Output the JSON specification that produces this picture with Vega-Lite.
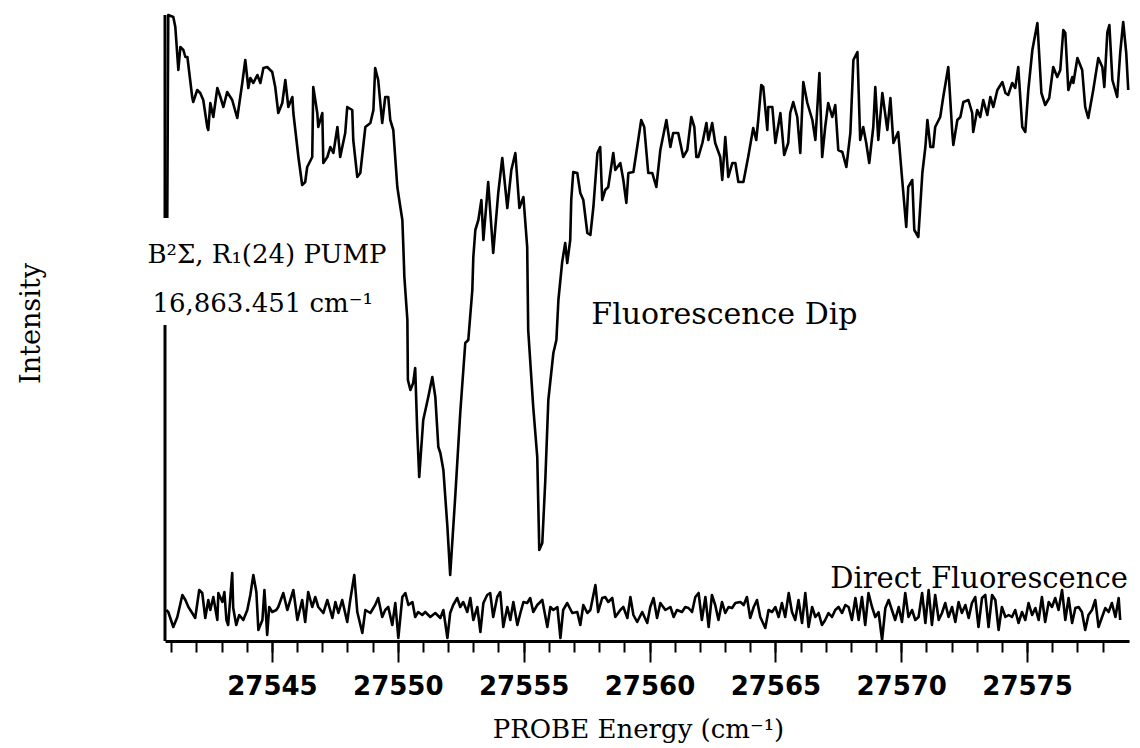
{
"$schema": "https://vega.github.io/schema/vega-lite/v6.json",
"width": 964, "height": 626,
"autosize": "none",
"padding": {"left": 165, "top": 15, "right": 11, "bottom": 107},
"background": "white",
"config": {"view": {"stroke": null}, "axis": {"grid": false}},
"datasets": {
"spectrum": [
{"trace":"dip","e":27540.84,"i":423},{"trace":"dip","e":27540.88,"i":626},{"trace":"dip","e":27541.08,"i":624},{"trace":"dip","e":27541.16,"i":614},{"trace":"dip","e":27541.28,"i":571},{"trace":"dip","e":27541.36,"i":594},{"trace":"dip","e":27541.48,"i":591},{"trace":"dip","e":27541.56,"i":584},{"trace":"dip","e":27541.64,"i":584},{"trace":"dip","e":27541.83,"i":544},{"trace":"dip","e":27541.87,"i":539},{"trace":"dip","e":27542.03,"i":551},{"trace":"dip","e":27542.15,"i":548},{"trace":"dip","e":27542.27,"i":541},{"trace":"dip","e":27542.43,"i":514},{"trace":"dip","e":27542.47,"i":511},{"trace":"dip","e":27542.55,"i":538},{"trace":"dip","e":27542.67,"i":524},{"trace":"dip","e":27542.83,"i":553},{"trace":"dip","e":27542.95,"i":544},{"trace":"dip","e":27543.07,"i":534},{"trace":"dip","e":27543.22,"i":549},{"trace":"dip","e":27543.42,"i":541},{"trace":"dip","e":27543.62,"i":523},{"trace":"dip","e":27543.82,"i":558},{"trace":"dip","e":27543.94,"i":581},{"trace":"dip","e":27544.06,"i":553},{"trace":"dip","e":27544.14,"i":563},{"trace":"dip","e":27544.26,"i":558},{"trace":"dip","e":27544.42,"i":566},{"trace":"dip","e":27544.54,"i":558},{"trace":"dip","e":27544.66,"i":573},{"trace":"dip","e":27544.81,"i":574},{"trace":"dip","e":27545.01,"i":569},{"trace":"dip","e":27545.13,"i":554},{"trace":"dip","e":27545.25,"i":528},{"trace":"dip","e":27545.41,"i":538},{"trace":"dip","e":27545.53,"i":561},{"trace":"dip","e":27545.65,"i":534},{"trace":"dip","e":27545.81,"i":544},{"trace":"dip","e":27545.85,"i":528},{"trace":"dip","e":27546.05,"i":484},{"trace":"dip","e":27546.20,"i":456},{"trace":"dip","e":27546.32,"i":459},{"trace":"dip","e":27546.40,"i":474},{"trace":"dip","e":27546.60,"i":484},{"trace":"dip","e":27546.64,"i":554},{"trace":"dip","e":27546.80,"i":528},{"trace":"dip","e":27546.84,"i":514},{"trace":"dip","e":27547.00,"i":528},{"trace":"dip","e":27547.04,"i":478},{"trace":"dip","e":27547.20,"i":484},{"trace":"dip","e":27547.32,"i":494},{"trace":"dip","e":27547.44,"i":488},{"trace":"dip","e":27547.60,"i":514},{"trace":"dip","e":27547.71,"i":484},{"trace":"dip","e":27547.91,"i":508},{"trace":"dip","e":27547.99,"i":534},{"trace":"dip","e":27548.19,"i":531},{"trace":"dip","e":27548.23,"i":501},{"trace":"dip","e":27548.39,"i":464},{"trace":"dip","e":27548.51,"i":468},{"trace":"dip","e":27548.71,"i":514},{"trace":"dip","e":27548.91,"i":518},{"trace":"dip","e":27549.03,"i":531},{"trace":"dip","e":27549.10,"i":573},{"trace":"dip","e":27549.22,"i":561},{"trace":"dip","e":27549.38,"i":518},{"trace":"dip","e":27549.50,"i":544},{"trace":"dip","e":27549.62,"i":544},{"trace":"dip","e":27549.70,"i":521},{"trace":"dip","e":27549.82,"i":511},{"trace":"dip","e":27549.98,"i":454},{"trace":"dip","e":27550.10,"i":434},{"trace":"dip","e":27550.18,"i":421},{"trace":"dip","e":27550.22,"i":394},{"trace":"dip","e":27550.26,"i":364},{"trace":"dip","e":27550.38,"i":321},{"trace":"dip","e":27550.40,"i":261},{"trace":"dip","e":27550.50,"i":251},{"trace":"dip","e":27550.61,"i":258},{"trace":"dip","e":27550.69,"i":273},{"trace":"dip","e":27550.77,"i":211},{"trace":"dip","e":27550.85,"i":164},{"trace":"dip","e":27551.01,"i":221},{"trace":"dip","e":27551.21,"i":244},{"trace":"dip","e":27551.37,"i":264},{"trace":"dip","e":27551.49,"i":244},{"trace":"dip","e":27551.61,"i":194},{"trace":"dip","e":27551.69,"i":188},{"trace":"dip","e":27551.81,"i":171},{"trace":"dip","e":27551.97,"i":114},{"trace":"dip","e":27552.08,"i":66},{"trace":"dip","e":27552.28,"i":144},{"trace":"dip","e":27552.48,"i":228},{"trace":"dip","e":27552.68,"i":298},{"trace":"dip","e":27552.80,"i":301},{"trace":"dip","e":27552.96,"i":351},{"trace":"dip","e":27553.00,"i":384},{"trace":"dip","e":27553.08,"i":411},{"trace":"dip","e":27553.20,"i":421},{"trace":"dip","e":27553.32,"i":441},{"trace":"dip","e":27553.40,"i":401},{"trace":"dip","e":27553.59,"i":459},{"trace":"dip","e":27553.79,"i":388},{"trace":"dip","e":27553.99,"i":448},{"trace":"dip","e":27554.15,"i":483},{"trace":"dip","e":27554.35,"i":433},{"trace":"dip","e":27554.51,"i":471},{"trace":"dip","e":27554.67,"i":488},{"trace":"dip","e":27554.83,"i":433},{"trace":"dip","e":27554.99,"i":444},{"trace":"dip","e":27555.14,"i":394},{"trace":"dip","e":27555.18,"i":311},{"trace":"dip","e":27555.38,"i":234},{"trace":"dip","e":27555.54,"i":184},{"trace":"dip","e":27555.62,"i":91},{"trace":"dip","e":27555.74,"i":98},{"trace":"dip","e":27555.86,"i":161},{"trace":"dip","e":27555.98,"i":241},{"trace":"dip","e":27556.18,"i":288},{"trace":"dip","e":27556.30,"i":301},{"trace":"dip","e":27556.38,"i":341},{"trace":"dip","e":27556.53,"i":379},{"trace":"dip","e":27556.65,"i":398},{"trace":"dip","e":27556.73,"i":378},{"trace":"dip","e":27556.85,"i":401},{"trace":"dip","e":27556.89,"i":441},{"trace":"dip","e":27556.97,"i":469},{"trace":"dip","e":27557.13,"i":468},{"trace":"dip","e":27557.25,"i":448},{"trace":"dip","e":27557.37,"i":441},{"trace":"dip","e":27557.53,"i":408},{"trace":"dip","e":27557.65,"i":406},{"trace":"dip","e":27557.77,"i":434},{"trace":"dip","e":27557.93,"i":488},{"trace":"dip","e":27558.04,"i":494},{"trace":"dip","e":27558.12,"i":441},{"trace":"dip","e":27558.24,"i":451},{"trace":"dip","e":27558.36,"i":454},{"trace":"dip","e":27558.56,"i":488},{"trace":"dip","e":27558.64,"i":471},{"trace":"dip","e":27558.84,"i":478},{"trace":"dip","e":27558.96,"i":461},{"trace":"dip","e":27559.08,"i":438},{"trace":"dip","e":27559.16,"i":468},{"trace":"dip","e":27559.36,"i":469},{"trace":"dip","e":27559.51,"i":494},{"trace":"dip","e":27559.67,"i":521},{"trace":"dip","e":27559.79,"i":514},{"trace":"dip","e":27559.95,"i":468},{"trace":"dip","e":27560.11,"i":468},{"trace":"dip","e":27560.27,"i":454},{"trace":"dip","e":27560.43,"i":491},{"trace":"dip","e":27560.67,"i":521},{"trace":"dip","e":27560.83,"i":494},{"trace":"dip","e":27560.94,"i":508},{"trace":"dip","e":27561.14,"i":508},{"trace":"dip","e":27561.34,"i":484},{"trace":"dip","e":27561.50,"i":491},{"trace":"dip","e":27561.66,"i":524},{"trace":"dip","e":27561.78,"i":514},{"trace":"dip","e":27561.86,"i":484},{"trace":"dip","e":27561.94,"i":484},{"trace":"dip","e":27562.10,"i":498},{"trace":"dip","e":27562.26,"i":518},{"trace":"dip","e":27562.34,"i":501},{"trace":"dip","e":27562.49,"i":518},{"trace":"dip","e":27562.61,"i":498},{"trace":"dip","e":27562.81,"i":484},{"trace":"dip","e":27562.89,"i":461},{"trace":"dip","e":27563.01,"i":504},{"trace":"dip","e":27563.13,"i":464},{"trace":"dip","e":27563.29,"i":478},{"trace":"dip","e":27563.41,"i":478},{"trace":"dip","e":27563.53,"i":459},{"trace":"dip","e":27563.73,"i":459},{"trace":"dip","e":27563.92,"i":484},{"trace":"dip","e":27564.12,"i":513},{"trace":"dip","e":27564.24,"i":501},{"trace":"dip","e":27564.32,"i":521},{"trace":"dip","e":27564.44,"i":556},{"trace":"dip","e":27564.52,"i":554},{"trace":"dip","e":27564.68,"i":511},{"trace":"dip","e":27564.72,"i":534},{"trace":"dip","e":27564.88,"i":534},{"trace":"dip","e":27565.00,"i":498},{"trace":"dip","e":27565.20,"i":528},{"trace":"dip","e":27565.35,"i":486},{"trace":"dip","e":27565.51,"i":498},{"trace":"dip","e":27565.59,"i":528},{"trace":"dip","e":27565.71,"i":539},{"trace":"dip","e":27565.87,"i":524},{"trace":"dip","e":27565.99,"i":488},{"trace":"dip","e":27566.11,"i":559},{"trace":"dip","e":27566.27,"i":538},{"trace":"dip","e":27566.47,"i":521},{"trace":"dip","e":27566.59,"i":501},{"trace":"dip","e":27566.75,"i":568},{"trace":"dip","e":27566.86,"i":484},{"trace":"dip","e":27566.98,"i":514},{"trace":"dip","e":27567.10,"i":538},{"trace":"dip","e":27567.26,"i":524},{"trace":"dip","e":27567.38,"i":536},{"trace":"dip","e":27567.50,"i":491},{"trace":"dip","e":27567.66,"i":489},{"trace":"dip","e":27567.82,"i":474},{"trace":"dip","e":27567.98,"i":508},{"trace":"dip","e":27568.10,"i":581},{"trace":"dip","e":27568.26,"i":589},{"trace":"dip","e":27568.37,"i":501},{"trace":"dip","e":27568.49,"i":514},{"trace":"dip","e":27568.61,"i":498},{"trace":"dip","e":27568.73,"i":478},{"trace":"dip","e":27568.89,"i":514},{"trace":"dip","e":27568.97,"i":554},{"trace":"dip","e":27569.09,"i":501},{"trace":"dip","e":27569.25,"i":548},{"trace":"dip","e":27569.45,"i":511},{"trace":"dip","e":27569.57,"i":543},{"trace":"dip","e":27569.69,"i":498},{"trace":"dip","e":27569.88,"i":509},{"trace":"dip","e":27570.04,"i":461},{"trace":"dip","e":27570.20,"i":414},{"trace":"dip","e":27570.28,"i":454},{"trace":"dip","e":27570.44,"i":461},{"trace":"dip","e":27570.52,"i":411},{"trace":"dip","e":27570.68,"i":404},{"trace":"dip","e":27570.84,"i":468},{"trace":"dip","e":27570.96,"i":494},{"trace":"dip","e":27571.04,"i":521},{"trace":"dip","e":27571.16,"i":494},{"trace":"dip","e":27571.27,"i":494},{"trace":"dip","e":27571.35,"i":514},{"trace":"dip","e":27571.55,"i":524},{"trace":"dip","e":27571.67,"i":544},{"trace":"dip","e":27571.87,"i":574},{"trace":"dip","e":27572.03,"i":508},{"trace":"dip","e":27572.07,"i":496},{"trace":"dip","e":27572.23,"i":521},{"trace":"dip","e":27572.35,"i":524},{"trace":"dip","e":27572.47,"i":539},{"trace":"dip","e":27572.67,"i":541},{"trace":"dip","e":27572.82,"i":528},{"trace":"dip","e":27572.86,"i":509},{"trace":"dip","e":27573.02,"i":531},{"trace":"dip","e":27573.14,"i":524},{"trace":"dip","e":27573.26,"i":541},{"trace":"dip","e":27573.42,"i":526},{"trace":"dip","e":27573.54,"i":544},{"trace":"dip","e":27573.66,"i":534},{"trace":"dip","e":27573.82,"i":551},{"trace":"dip","e":27574.02,"i":559},{"trace":"dip","e":27574.14,"i":548},{"trace":"dip","e":27574.25,"i":546},{"trace":"dip","e":27574.41,"i":558},{"trace":"dip","e":27574.53,"i":553},{"trace":"dip","e":27574.65,"i":574},{"trace":"dip","e":27574.81,"i":514},{"trace":"dip","e":27574.93,"i":509},{"trace":"dip","e":27575.05,"i":551},{"trace":"dip","e":27575.21,"i":591},{"trace":"dip","e":27575.41,"i":618},{"trace":"dip","e":27575.57,"i":548},{"trace":"dip","e":27575.72,"i":536},{"trace":"dip","e":27575.88,"i":543},{"trace":"dip","e":27576.04,"i":574},{"trace":"dip","e":27576.20,"i":564},{"trace":"dip","e":27576.32,"i":571},{"trace":"dip","e":27576.44,"i":611},{"trace":"dip","e":27576.52,"i":608},{"trace":"dip","e":27576.64,"i":551},{"trace":"dip","e":27576.80,"i":564},{"trace":"dip","e":27576.84,"i":558},{"trace":"dip","e":27577.00,"i":583},{"trace":"dip","e":27577.19,"i":571},{"trace":"dip","e":27577.31,"i":534},{"trace":"dip","e":27577.43,"i":523},{"trace":"dip","e":27577.63,"i":551},{"trace":"dip","e":27577.83,"i":583},{"trace":"dip","e":27577.99,"i":574},{"trace":"dip","e":27578.07,"i":554},{"trace":"dip","e":27578.19,"i":609},{"trace":"dip","e":27578.27,"i":616},{"trace":"dip","e":27578.39,"i":561},{"trace":"dip","e":27578.58,"i":544},{"trace":"dip","e":27578.70,"i":588},{"trace":"dip","e":27578.82,"i":619},{"trace":"dip","e":27578.94,"i":588},{"trace":"dip","e":27579.02,"i":551},
{"trace":"direct","e":27540.80,"i":31},{"trace":"direct","e":27540.88,"i":29},{"trace":"direct","e":27541.08,"i":14},{"trace":"direct","e":27541.24,"i":24},{"trace":"direct","e":27541.44,"i":46},{"trace":"direct","e":27541.56,"i":41},{"trace":"direct","e":27541.68,"i":34},{"trace":"direct","e":27541.83,"i":28},{"trace":"direct","e":27541.95,"i":23},{"trace":"direct","e":27542.11,"i":51},{"trace":"direct","e":27542.23,"i":48},{"trace":"direct","e":27542.35,"i":23},{"trace":"direct","e":27542.47,"i":41},{"trace":"direct","e":27542.55,"i":31},{"trace":"direct","e":27542.67,"i":44},{"trace":"direct","e":27542.83,"i":21},{"trace":"direct","e":27542.87,"i":48},{"trace":"direct","e":27543.03,"i":39},{"trace":"direct","e":27543.11,"i":49},{"trace":"direct","e":27543.19,"i":21},{"trace":"direct","e":27543.26,"i":16},{"trace":"direct","e":27543.42,"i":68},{"trace":"direct","e":27543.46,"i":33},{"trace":"direct","e":27543.58,"i":16},{"trace":"direct","e":27543.70,"i":26},{"trace":"direct","e":27543.86,"i":21},{"trace":"direct","e":27544.02,"i":31},{"trace":"direct","e":27544.14,"i":46},{"trace":"direct","e":27544.26,"i":66},{"trace":"direct","e":27544.38,"i":49},{"trace":"direct","e":27544.46,"i":11},{"trace":"direct","e":27544.62,"i":21},{"trace":"direct","e":27544.70,"i":51},{"trace":"direct","e":27544.81,"i":6},{"trace":"direct","e":27544.89,"i":34},{"trace":"direct","e":27545.01,"i":29},{"trace":"direct","e":27545.17,"i":31},{"trace":"direct","e":27545.25,"i":34},{"trace":"direct","e":27545.45,"i":48},{"trace":"direct","e":27545.61,"i":31},{"trace":"direct","e":27545.73,"i":41},{"trace":"direct","e":27545.85,"i":51},{"trace":"direct","e":27546.01,"i":21},{"trace":"direct","e":27546.20,"i":41},{"trace":"direct","e":27546.32,"i":19},{"trace":"direct","e":27546.44,"i":49},{"trace":"direct","e":27546.60,"i":34},{"trace":"direct","e":27546.72,"i":44},{"trace":"direct","e":27546.84,"i":34},{"trace":"direct","e":27547.04,"i":28},{"trace":"direct","e":27547.20,"i":41},{"trace":"direct","e":27547.40,"i":23},{"trace":"direct","e":27547.52,"i":39},{"trace":"direct","e":27547.64,"i":28},{"trace":"direct","e":27547.79,"i":41},{"trace":"direct","e":27547.99,"i":19},{"trace":"direct","e":27548.11,"i":41},{"trace":"direct","e":27548.27,"i":66},{"trace":"direct","e":27548.39,"i":29},{"trace":"direct","e":27548.59,"i":8},{"trace":"direct","e":27548.71,"i":31},{"trace":"direct","e":27548.91,"i":28},{"trace":"direct","e":27549.10,"i":36},{"trace":"direct","e":27549.22,"i":43},{"trace":"direct","e":27549.38,"i":24},{"trace":"direct","e":27549.50,"i":31},{"trace":"direct","e":27549.62,"i":34},{"trace":"direct","e":27549.78,"i":16},{"trace":"direct","e":27549.90,"i":38},{"trace":"direct","e":27550.02,"i":3},{"trace":"direct","e":27550.18,"i":44},{"trace":"direct","e":27550.30,"i":48},{"trace":"direct","e":27550.42,"i":36},{"trace":"direct","e":27550.58,"i":39},{"trace":"direct","e":27550.69,"i":24},{"trace":"direct","e":27550.81,"i":29},{"trace":"direct","e":27550.97,"i":26},{"trace":"direct","e":27551.09,"i":29},{"trace":"direct","e":27551.29,"i":24},{"trace":"direct","e":27551.49,"i":28},{"trace":"direct","e":27551.69,"i":23},{"trace":"direct","e":27551.81,"i":31},{"trace":"direct","e":27551.97,"i":3},{"trace":"direct","e":27552.08,"i":28},{"trace":"direct","e":27552.20,"i":36},{"trace":"direct","e":27552.36,"i":43},{"trace":"direct","e":27552.48,"i":34},{"trace":"direct","e":27552.60,"i":39},{"trace":"direct","e":27552.76,"i":29},{"trace":"direct","e":27552.88,"i":43},{"trace":"direct","e":27553.00,"i":21},{"trace":"direct","e":27553.16,"i":34},{"trace":"direct","e":27553.28,"i":9},{"trace":"direct","e":27553.40,"i":38},{"trace":"direct","e":27553.55,"i":46},{"trace":"direct","e":27553.67,"i":48},{"trace":"direct","e":27553.79,"i":24},{"trace":"direct","e":27553.95,"i":44},{"trace":"direct","e":27554.07,"i":49},{"trace":"direct","e":27554.19,"i":14},{"trace":"direct","e":27554.35,"i":34},{"trace":"direct","e":27554.47,"i":21},{"trace":"direct","e":27554.59,"i":39},{"trace":"direct","e":27554.75,"i":16},{"trace":"direct","e":27554.87,"i":28},{"trace":"direct","e":27554.99,"i":39},{"trace":"direct","e":27555.14,"i":38},{"trace":"direct","e":27555.26,"i":43},{"trace":"direct","e":27555.38,"i":29},{"trace":"direct","e":27555.54,"i":36},{"trace":"direct","e":27555.74,"i":41},{"trace":"direct","e":27555.94,"i":14},{"trace":"direct","e":27556.06,"i":34},{"trace":"direct","e":27556.18,"i":31},{"trace":"direct","e":27556.34,"i":34},{"trace":"direct","e":27556.46,"i":3},{"trace":"direct","e":27556.57,"i":31},{"trace":"direct","e":27556.73,"i":38},{"trace":"direct","e":27556.93,"i":28},{"trace":"direct","e":27557.13,"i":29},{"trace":"direct","e":27557.25,"i":16},{"trace":"direct","e":27557.37,"i":36},{"trace":"direct","e":27557.53,"i":28},{"trace":"direct","e":27557.65,"i":31},{"trace":"direct","e":27557.85,"i":56},{"trace":"direct","e":27557.96,"i":29},{"trace":"direct","e":27558.12,"i":43},{"trace":"direct","e":27558.24,"i":44},{"trace":"direct","e":27558.36,"i":39},{"trace":"direct","e":27558.52,"i":43},{"trace":"direct","e":27558.64,"i":24},{"trace":"direct","e":27558.84,"i":31},{"trace":"direct","e":27558.96,"i":34},{"trace":"direct","e":27559.12,"i":23},{"trace":"direct","e":27559.24,"i":44},{"trace":"direct","e":27559.36,"i":26},{"trace":"direct","e":27559.51,"i":19},{"trace":"direct","e":27559.71,"i":29},{"trace":"direct","e":27559.91,"i":18},{"trace":"direct","e":27560.03,"i":34},{"trace":"direct","e":27560.16,"i":43},{"trace":"direct","e":27560.30,"i":23},{"trace":"direct","e":27560.43,"i":38},{"trace":"direct","e":27560.63,"i":31},{"trace":"direct","e":27560.83,"i":34},{"trace":"direct","e":27560.96,"i":24},{"trace":"direct","e":27561.09,"i":31},{"trace":"direct","e":27561.29,"i":29},{"trace":"direct","e":27561.42,"i":34},{"trace":"direct","e":27561.55,"i":33},{"trace":"direct","e":27561.69,"i":29},{"trace":"direct","e":27561.82,"i":44},{"trace":"direct","e":27561.95,"i":48},{"trace":"direct","e":27562.08,"i":21},{"trace":"direct","e":27562.22,"i":44},{"trace":"direct","e":27562.35,"i":14},{"trace":"direct","e":27562.48,"i":46},{"trace":"direct","e":27562.61,"i":36},{"trace":"direct","e":27562.74,"i":21},{"trace":"direct","e":27562.88,"i":39},{"trace":"direct","e":27563.01,"i":28},{"trace":"direct","e":27563.14,"i":34},{"trace":"direct","e":27563.28,"i":33},{"trace":"direct","e":27563.41,"i":38},{"trace":"direct","e":27563.61,"i":39},{"trace":"direct","e":27563.74,"i":36},{"trace":"direct","e":27563.87,"i":44},{"trace":"direct","e":27564.00,"i":23},{"trace":"direct","e":27564.14,"i":34},{"trace":"direct","e":27564.27,"i":41},{"trace":"direct","e":27564.40,"i":24},{"trace":"direct","e":27564.60,"i":13},{"trace":"direct","e":27564.73,"i":31},{"trace":"direct","e":27564.87,"i":29},{"trace":"direct","e":27565.00,"i":34},{"trace":"direct","e":27565.13,"i":24},{"trace":"direct","e":27565.26,"i":38},{"trace":"direct","e":27565.39,"i":24},{"trace":"direct","e":27565.53,"i":48},{"trace":"direct","e":27565.66,"i":29},{"trace":"direct","e":27565.79,"i":21},{"trace":"direct","e":27565.92,"i":41},{"trace":"direct","e":27566.06,"i":18},{"trace":"direct","e":27566.19,"i":48},{"trace":"direct","e":27566.32,"i":14},{"trace":"direct","e":27566.46,"i":34},{"trace":"direct","e":27566.59,"i":24},{"trace":"direct","e":27566.72,"i":28},{"trace":"direct","e":27566.85,"i":16},{"trace":"direct","e":27566.98,"i":21},{"trace":"direct","e":27567.11,"i":28},{"trace":"direct","e":27567.25,"i":24},{"trace":"direct","e":27567.38,"i":31},{"trace":"direct","e":27567.51,"i":34},{"trace":"direct","e":27567.65,"i":28},{"trace":"direct","e":27567.78,"i":36},{"trace":"direct","e":27567.91,"i":34},{"trace":"direct","e":27568.04,"i":21},{"trace":"direct","e":27568.18,"i":43},{"trace":"direct","e":27568.31,"i":21},{"trace":"direct","e":27568.44,"i":44},{"trace":"direct","e":27568.57,"i":16},{"trace":"direct","e":27568.70,"i":48},{"trace":"direct","e":27568.84,"i":34},{"trace":"direct","e":27568.97,"i":24},{"trace":"direct","e":27569.10,"i":29},{"trace":"direct","e":27569.24,"i":1},{"trace":"direct","e":27569.37,"i":33},{"trace":"direct","e":27569.50,"i":41},{"trace":"direct","e":27569.63,"i":31},{"trace":"direct","e":27569.76,"i":21},{"trace":"direct","e":27569.90,"i":34},{"trace":"direct","e":27570.03,"i":19},{"trace":"direct","e":27570.16,"i":48},{"trace":"direct","e":27570.29,"i":24},{"trace":"direct","e":27570.43,"i":31},{"trace":"direct","e":27570.56,"i":21},{"trace":"direct","e":27570.69,"i":24},{"trace":"direct","e":27570.83,"i":48},{"trace":"direct","e":27570.96,"i":18},{"trace":"direct","e":27571.09,"i":51},{"trace":"direct","e":27571.22,"i":16},{"trace":"direct","e":27571.35,"i":46},{"trace":"direct","e":27571.49,"i":21},{"trace":"direct","e":27571.62,"i":28},{"trace":"direct","e":27571.75,"i":38},{"trace":"direct","e":27571.88,"i":24},{"trace":"direct","e":27572.02,"i":34},{"trace":"direct","e":27572.15,"i":19},{"trace":"direct","e":27572.28,"i":39},{"trace":"direct","e":27572.41,"i":28},{"trace":"direct","e":27572.55,"i":36},{"trace":"direct","e":27572.68,"i":23},{"trace":"direct","e":27572.81,"i":38},{"trace":"direct","e":27572.94,"i":44},{"trace":"direct","e":27573.07,"i":14},{"trace":"direct","e":27573.21,"i":43},{"trace":"direct","e":27573.34,"i":46},{"trace":"direct","e":27573.47,"i":14},{"trace":"direct","e":27573.61,"i":46},{"trace":"direct","e":27573.74,"i":41},{"trace":"direct","e":27573.87,"i":11},{"trace":"direct","e":27574.00,"i":34},{"trace":"direct","e":27574.14,"i":24},{"trace":"direct","e":27574.27,"i":26},{"trace":"direct","e":27574.40,"i":24},{"trace":"direct","e":27574.53,"i":31},{"trace":"direct","e":27574.66,"i":18},{"trace":"direct","e":27574.80,"i":29},{"trace":"direct","e":27574.93,"i":21},{"trace":"direct","e":27575.06,"i":38},{"trace":"direct","e":27575.20,"i":26},{"trace":"direct","e":27575.33,"i":33},{"trace":"direct","e":27575.46,"i":21},{"trace":"direct","e":27575.59,"i":44},{"trace":"direct","e":27575.72,"i":19},{"trace":"direct","e":27575.86,"i":39},{"trace":"direct","e":27575.99,"i":34},{"trace":"direct","e":27576.12,"i":43},{"trace":"direct","e":27576.25,"i":31},{"trace":"direct","e":27576.39,"i":51},{"trace":"direct","e":27576.52,"i":21},{"trace":"direct","e":27576.65,"i":43},{"trace":"direct","e":27576.79,"i":18},{"trace":"direct","e":27576.92,"i":33},{"trace":"direct","e":27577.05,"i":34},{"trace":"direct","e":27577.18,"i":29},{"trace":"direct","e":27577.31,"i":11},{"trace":"direct","e":27577.44,"i":26},{"trace":"direct","e":27577.58,"i":31},{"trace":"direct","e":27577.71,"i":41},{"trace":"direct","e":27577.84,"i":14},{"trace":"direct","e":27577.98,"i":24},{"trace":"direct","e":27578.11,"i":33},{"trace":"direct","e":27578.24,"i":29},{"trace":"direct","e":27578.37,"i":38},{"trace":"direct","e":27578.51,"i":24},{"trace":"direct","e":27578.64,"i":43},{"trace":"direct","e":27578.70,"i":21}
]
},
"layer": [
{
"data": {"name": "spectrum"},
"mark": {"type": "line", "color": "black", "strokeWidth": 2.6, "strokeJoin": "round", "interpolate": "linear"},
"encoding": {
"x": {"field": "e", "type": "quantitative",
"scale": {"domain": [27540.75, 27579.05], "nice": false, "zero": false},
"axis": {"orient": "bottom", "values": [27545, 27550, 27555, 27560, 27565, 27570, 27575], "format": "d",
"domain": true, "domainColor": "black", "domainWidth": 3,
"ticks": true, "tickSize": 21, "tickWidth": 2, "tickColor": "black",
"labelFont": "DejaVu Sans", "labelFontWeight": "bold", "labelFontSize": 26, "labelColor": "black",
"labelBaseline": "alphabetic", "labelPadding": 32, "labelFlush": false, "labelOverlap": false,
"title": "PROBE Energy (cm⁻¹)", "titleFont": "DejaVu Serif", "titleFontSize": 26, "titleFontWeight": "normal",
"titleColor": "black", "titleBaseline": "alphabetic", "titleAlign": "center", "titleX": 473, "titleY": 96, "grid": false}},
"y": {"field": "i", "type": "quantitative",
"scale": {"domain": [0, 626], "nice": false, "zero": false},
"axis": {"domain": false, "ticks": false, "labels": false, "grid": false,
"title": "Intensity", "titleFont": "DejaVu Serif", "titleFontSize": 27, "titleFontWeight": "normal",
"titleColor": "black", "titleAngle": 270, "titleBaseline": "alphabetic", "titleAlign": "center", "titleX": -126, "titleY": 308}},
"detail": {"field": "trace", "type": "nominal"}
}
},
{
"data": {"values": [{"e": 27540.75, "lo": 0, "hi": 316}, {"e": 27540.75, "lo": 423, "hi": 626}]},
"mark": {"type": "rule", "color": "black", "strokeWidth": 3},
"encoding": {
"x": {"field": "e", "type": "quantitative",
"axis": {"orient": "bottom", "values": [27541,27542,27543,27544,27545,27546,27547,27548,27549,27550,27551,27552,27553,27554,27555,27556,27557,27558,27559,27560,27561,27562,27563,27564,27565,27566,27567,27568,27569,27570,27571,27572,27573,27574,27575,27576,27577,27578],
"domain": false, "labels": false, "ticks": true, "tickSize": 11, "tickWidth": 2, "tickColor": "black", "title": null, "grid": false}},
"y": {"field": "lo", "type": "quantitative", "axis": null},
"y2": {"field": "hi"}
}
},
{
"data": {"values": [{"e": 27540.05, "i": 378, "note": "B²Σ, R₁(24)  PUMP"}, {"e": 27540.25, "i": 329, "note": "16,863.451 cm⁻¹"}]},
"mark": {"type": "text", "font": "DejaVu Serif", "fontSize": 26, "align": "left", "baseline": "alphabetic", "color": "black"},
"encoding": {
"x": {"field": "e", "type": "quantitative", "axis": null},
"y": {"field": "i", "type": "quantitative", "axis": null},
"text": {"field": "note"}
}
},
{
"data": {"values": [{"e": 27557.69, "i": 317, "note": "Fluorescence  Dip"}]},
"mark": {"type": "text", "font": "DejaVu Serif", "fontSize": 30, "align": "left", "baseline": "alphabetic", "color": "black"},
"encoding": {
"x": {"field": "e", "type": "quantitative", "axis": null},
"y": {"field": "i", "type": "quantitative", "axis": null},
"text": {"field": "note"}
}
},
{
"data": {"values": [{"e": 27567.18, "i": 53, "note": "Direct  Fluorescence"}]},
"mark": {"type": "text", "font": "DejaVu Serif", "fontSize": 29, "align": "left", "baseline": "alphabetic", "color": "black"},
"encoding": {
"x": {"field": "e", "type": "quantitative", "axis": null},
"y": {"field": "i", "type": "quantitative", "axis": null},
"text": {"field": "note"}
}
}
],
"resolve": {"axis": {"x": "independent", "y": "independent"}}
}
